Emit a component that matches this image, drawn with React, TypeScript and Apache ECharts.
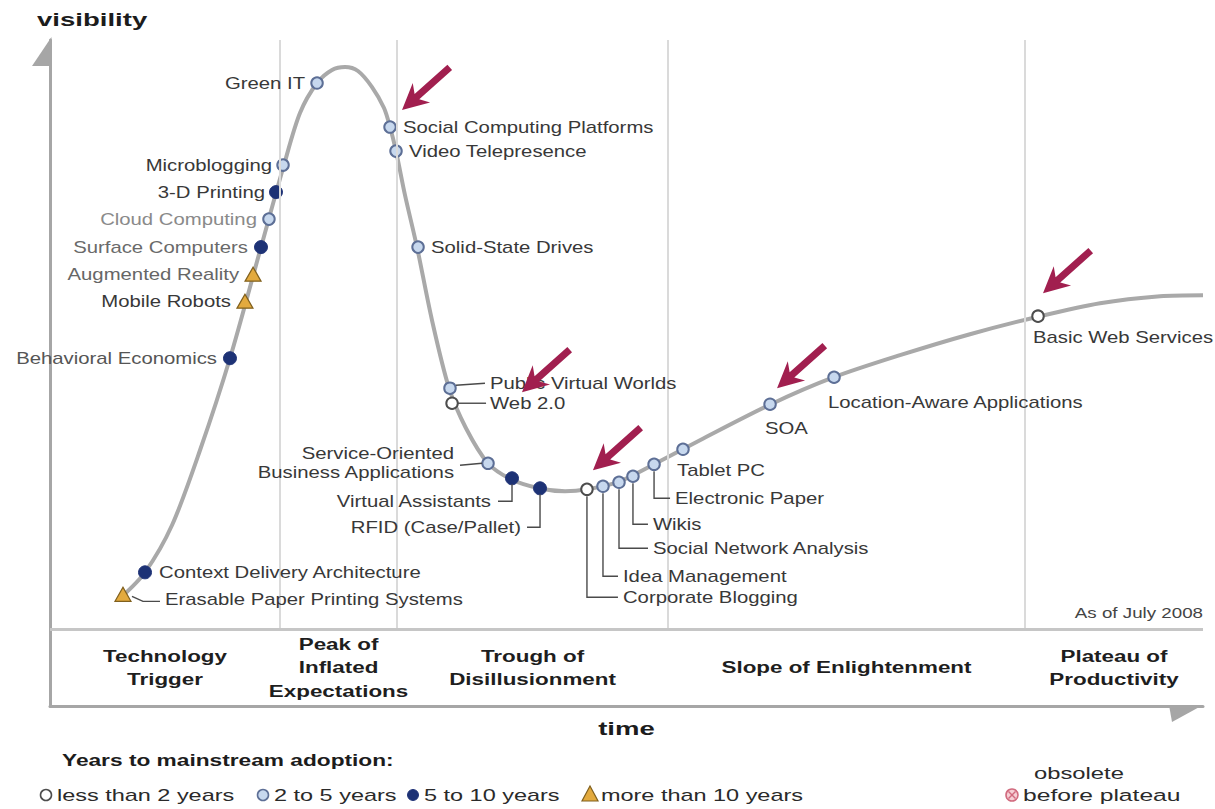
import React, { useEffect, useRef } from "react";
import * as echarts from "echarts";

// ---------- DATA ----------
const technologies = [
  "Erasable Paper Printing Systems",
  "Context Delivery Architecture",
  "Behavioral Economics",
  "Mobile Robots",
  "Augmented Reality",
  "Surface Computers",
  "Cloud Computing",
  "3-D Printing",
  "Microblogging",
  "Green IT",
  "Social Computing Platforms",
  "Video Telepresence",
  "Solid-State Drives",
  "Public Virtual Worlds",
  "Web 2.0",
  "Service-Oriented Business Applications",
  "Virtual Assistants",
  "RFID (Case/Pallet)",
  "Corporate Blogging",
  "Idea Management",
  "Social Network Analysis",
  "Wikis",
  "Electronic Paper",
  "Tablet PC",
  "SOA",
  "Location-Aware Applications",
  "Basic Web Services",
];
const timeValues = [
  6.33, 8.24, 15.61, 16.91, 17.61, 18.3, 18.99, 19.6, 20.21, 23.16, 29.49, 30.01, 31.92, 34.69, 34.87, 37.99,
  40.07, 42.5, 46.57, 47.96, 49.35, 50.56, 52.39, 54.9, 62.45, 68.0, 85.69,
];
const visibilityValues = [
  5.94, 9.68, 46.01, 55.69, 60.27, 64.86, 69.61, 74.19, 78.78, 92.7, 85.23, 81.15, 64.86, 40.92, 38.37, 28.18,
  25.64, 23.94, 23.77, 24.28, 24.96, 25.98, 28.01, 30.56, 38.2, 42.78, 53.14,
];
const adoption = [
  "10+", "5-10", "5-10", "10+", "10+", "5-10", "2-5", "5-10", "2-5", "2-5", "2-5", "2-5", "2-5", "2-5", "<2", "2-5",
  "5-10", "5-10", "<2", "2-5", "2-5", "2-5", "2-5", "2-5", "2-5", "2-5", "<2",
];
const adoptionKeys = ["<2", "2-5", "5-10", "10+", "obsolete"];
const adoptionLabels = ["less than 2 years", "2 to 5 years", "5 to 10 years", "more than 10 years", "obsolete\nbefore plateau"];

const curveTime = [
  6.16, 8.24, 10.58, 13.01, 15.61, 18.3, 20.29, 21.68, 23.16, 24.46, 25.59, 26.71, 27.93, 28.97, 29.49, 30.01,
  30.79, 31.83, 33.13, 34.61, 36.08, 37.99, 39.98, 42.41, 44.67, 46.57, 49.44, 52.39, 56.37, 62.53, 67.99, 73.72,
  79.79, 85.86, 91.07, 96.27, 100,
];
const curveVisibility = [
  5.43, 9.68, 17.66, 30.39, 46.01, 64.86, 78.78, 87.61, 92.7, 94.91, 95.42, 94.74, 92.02, 88.46, 85.23, 81.15,
  73.68, 64.86, 52.46, 40.92, 34.13, 28.18, 25.47, 23.94, 23.43, 23.77, 25.13, 28.01, 32.09, 38.2, 42.78, 46.52,
  50.08, 53.14, 55.35, 56.54, 56.71,
];

const phaseNames = [
  "Technology\nTrigger",
  "Peak of\nInflated\nExpectations",
  "Trough of\nDisillusionment",
  "Slope of Enlightenment",
  "Plateau of\nProductivity",
];
const phaseBoundaries = [0, 19.95, 30.1, 53.6, 84.56, 100];
const highlighted = ["Social Computing Platforms", "Public Virtual Worlds", "Corporate Blogging", "SOA", "Basic Web Services"];
const axisNames = { y: "visibility", x: "time" };
const legendTitle = "Years to mainstream adoption:";
const dateNote = "As of July 2008";

// ---------- LAYOUT / STYLE ----------
const FONT = '"Liberation Sans", Arial, sans-serif';
const LABEL_SCALE = 1.27;
const BOLD_SCALE = 1.4;

const markerStyle: Record<string, any> = {
  "<2": { symbol: "circle", size: 11.5, color: "#ffffff", border: "#4d4d4d", bw: 2 },
  "2-5": { symbol: "circle", size: 11.5, color: "#c7d8ee", border: "#5d6f96", bw: 2 },
  "5-10": { symbol: "circle", size: 13, color: "#1d3275", border: "#24377a", bw: 1 },
  "10+": { symbol: "triangle", size: [16, 14], color: "#e3aa3e", border: "#80601e", bw: 1.2 },
};

type LL = { dx: number; dy: number; align: "left" | "right"; leader?: number[][]; color?: string; text?: string };
const labelLayout: Record<string, LL> = {
  "Erasable Paper Printing Systems": { dx: 42, dy: 5, align: "left", leader: [[9, 2], [20, 7], [37, 7]] },
  "Context Delivery Architecture": { dx: 14, dy: 0, align: "left" },
  "Behavioral Economics": { dx: -13, dy: 0, align: "right", color: "#555555" },
  "Mobile Robots": { dx: -14, dy: 0, align: "right" },
  "Augmented Reality": { dx: -14, dy: 0, align: "right", color: "#666666" },
  "Surface Computers": { dx: -13, dy: 0, align: "right", color: "#6a6a6a" },
  "Cloud Computing": { dx: -12, dy: 0, align: "right", color: "#8a8a8a" },
  "3-D Printing": { dx: -11, dy: 0, align: "right" },
  "Microblogging": { dx: -11, dy: 0, align: "right" },
  "Green IT": { dx: -12, dy: 0, align: "right" },
  "Social Computing Platforms": { dx: 13, dy: 0, align: "left" },
  "Video Telepresence": { dx: 13, dy: 0, align: "left" },
  "Solid-State Drives": { dx: 13, dy: 0, align: "left" },
  "Public Virtual Worlds": { dx: 40, dy: -5, align: "left", leader: [[6, -3], [35, -5]] },
  "Web 2.0": { dx: 38, dy: 0, align: "left", leader: [[6, 0], [34, 0]] },
  "Service-Oriented Business Applications": {
    dx: -34, dy: 0, align: "right", leader: [[-28, 2], [-6, 0]], text: "Service-Oriented\nBusiness Applications",
  },
  "Virtual Assistants": { dx: -21, dy: 23, align: "right", leader: [[0, 6], [0, 23], [-14, 23]] },
  "RFID (Case/Pallet)": { dx: -19, dy: 39, align: "right", leader: [[0, 6], [0, 39], [-13, 39]] },
  "Corporate Blogging": { dx: 36, dy: 108, align: "left", leader: [[0, 7], [0, 108], [31, 108]] },
  "Idea Management": { dx: 20, dy: 90, align: "left", leader: [[0, 7], [0, 90], [15, 90]] },
  "Social Network Analysis": { dx: 34, dy: 66, align: "left", leader: [[0, 7], [0, 66], [29, 66]] },
  "Wikis": { dx: 20, dy: 48, align: "left", leader: [[0, 7], [0, 48], [15, 48]] },
  "Electronic Paper": { dx: 21, dy: 34, align: "left", leader: [[0, 7], [0, 34], [16, 34]] },
  "Tablet PC": { dx: -6, dy: 21, align: "left" },
  "SOA": { dx: -5, dy: 24, align: "left" },
  "Location-Aware Applications": { dx: -6, dy: 25, align: "left" },
  "Basic Web Services": { dx: -5, dy: 21, align: "left" },
};
const arrowTips: Record<string, number[]> = {
  "Social Computing Platforms": [12, -17],
  "Public Virtual Worlds": [72, 4],
  "Corporate Blogging": [6, -19],
  "SOA": [7, -16],
  "Basic Web Services": [5, -23],
};
const ARROW_COLOR = "#a11f4f";

function arrowPoints(tx: number, ty: number) {
  const len = Math.hypot(47, -42);
  const ux = 47 / len, uy = -42 / len;
  const nx = -uy, ny = ux;
  const L = 64, H = 26, W = 13, S = 3.5;
  const at = (a: number, b: number) => [tx + ux * a + nx * b, ty + uy * a + ny * b];
  return [at(0, 0), at(H, W), at(H - 6, S), at(L, S), at(L, -S), at(H - 6, -S), at(H, -W)];
}

function txt(x: number, y: number, text: string, o: any = {}) {
  return {
    type: "text",
    x,
    y,
    scaleX: o.scaleX ?? 1,
    silent: true,
    style: {
      text,
      fill: o.fill ?? "#222",
      fontSize: o.fontSize ?? 16,
      fontWeight: o.fontWeight ?? "normal",
      fontFamily: FONT,
      align: o.align ?? "left",
      textAlign: o.align ?? "left",
      verticalAlign: "middle",
      textVerticalAlign: "middle",
      lineHeight: o.lineHeight ?? 20,
    },
  };
}

export default function App() {
  const ref = useRef<HTMLDivElement>(null);
  useEffect(() => {
    const chart = echarts.init(ref.current!, null, { renderer: "svg" });
    const points = technologies.map((n, i) => [timeValues[i], visibilityValues[i], n]);

    const scatterSeries = adoptionKeys
      .filter((k) => markerStyle[k])
      .map((k) => {
        const st = markerStyle[k];
        return {
          type: "scatter",
          name: adoptionLabels[adoptionKeys.indexOf(k)],
          data: points.filter((_, i) => adoption[i] === k),
          symbol: st.symbol,
          symbolSize: st.size,
          itemStyle: { color: st.color, borderColor: st.border, borderWidth: st.bw, opacity: 1 },
          z: 4,
          silent: true,
        };
      });

    const vLines = phaseBoundaries.slice(1, -1).map((b) => [{ coord: [b, 0] }, { coord: [b, 100] }]);

    chart.setOption({
      animation: false,
      backgroundColor: "#ffffff",
      grid: { left: 50, right: 12, top: 40, bottom: 103 },
      xAxis: {
        type: "value",
        min: 0,
        max: 100,
        axisLine: { show: true, onZero: false, lineStyle: { color: "#a6a6a6", width: 3 } },
        axisTick: { show: false },
        axisLabel: { show: false },
        splitLine: { show: false },
      },
      yAxis: {
        type: "value",
        min: -13,
        max: 100,
        axisLine: { show: true, onZero: false, lineStyle: { color: "#a6a6a6", width: 3 } },
        axisTick: { show: false },
        axisLabel: { show: false },
        splitLine: { show: false },
      },
      series: [
        {
          type: "line",
          name: "Hype Cycle",
          data: curveTime.map((t, i) => [t, curveVisibility[i]]),
          smooth: 0.3,
          showSymbol: false,
          silent: true,
          lineStyle: { color: "#a9a9a9", width: 4 },
          z: 2,
          markLine: {
            silent: true,
            symbol: ["none", "none"],
            label: { show: false },
            lineStyle: { color: "#dadada", width: 2, type: "solid" },
            data: [
              ...vLines,
              [{ coord: [0, 0], lineStyle: { color: "#c6c6c6", width: 3, type: "solid" } }, { coord: [100, 0] }],
            ],
          },
        },
        ...scatterSeries,
        {
          type: "custom",
          name: "annotations",
          silent: true,
          clip: false,
          z: 6,
          data: technologies.map((n, i) => [timeValues[i], visibilityValues[i]]),
          renderItem: (params: any, api: any) => {
            const i = params.dataIndex;
            const name = technologies[i];
            const p = api.coord([api.value(0), api.value(1)]);
            const L = labelLayout[name];
            const children: any[] = [];
            if (L.leader) {
              children.push({
                type: "polyline",
                shape: { points: L.leader.map(([a, b]) => [p[0] + a, p[1] + b]) },
                style: { stroke: "#4a4a4a", lineWidth: 1.4, fill: null },
              });
            }
            children.push(
              txt(p[0] + L.dx, p[1] + L.dy, L.text ?? name, {
                scaleX: LABEL_SCALE,
                fill: L.color ?? "#383838",
                align: L.align,
                fontSize: 16,
                lineHeight: 19,
              })
            );
            if (highlighted.includes(name)) {
              const t = arrowTips[name];
              children.push({
                type: "polygon",
                shape: { points: arrowPoints(p[0] + t[0], p[1] + t[1]) },
                style: { fill: ARROW_COLOR },
              });
            }
            return { type: "group", children };
          },
        },
      ],
    });

    const px = (x: number, y: number) => chart.convertToPixel({ gridIndex: 0 } as any, [x, y]) as number[];
    const [x0, yTop] = px(0, 100);
    const [x1, yBottom] = px(100, -13);
    const yZero = px(0, 0)[1];
    const g: any[] = [];
    g.push({ type: "polygon", silent: true, shape: { points: [[x0 + 1.5, yTop - 3], [x0 + 1.5, yTop + 26], [x0 - 18, yTop + 26]] }, style: { fill: "#a6a6a6" } });
    g.push({ type: "polygon", silent: true, shape: { points: [[x1 - 34, yBottom - 1], [x1, yBottom - 1], [x1 - 31, yBottom + 16]] }, style: { fill: "#a6a6a6" } });
    g.push(txt(37, yTop - 20, axisNames.y, { fontSize: 19, fontWeight: "bold", scaleX: 1.45, fill: "#1c1c1c" }));
    g.push(txt((x0 + x1) / 2, yBottom + 23, axisNames.x, { fontSize: 19, fontWeight: "bold", scaleX: 1.45, fill: "#1c1c1c", align: "center" }));
    const yMidBand = (yZero + yBottom) / 2;
    phaseNames.forEach((n, i) => {
      const cx = (px(phaseBoundaries[i], 0)[0] + px(phaseBoundaries[i + 1], 0)[0]) / 2;
      g.push(txt(cx, yMidBand, n, { fontSize: 16, fontWeight: "bold", scaleX: BOLD_SCALE, fill: "#1e1e1e", align: "center", lineHeight: 23.5 }));
    });
    g.push(txt(x1, yZero - 16, dateNote, { fontSize: 15, scaleX: 1.25, fill: "#444", align: "right" }));

    // legend
    const legY = 795;
    g.push(txt(62, 760, legendTitle, { fontSize: 16, fontWeight: "bold", scaleX: 1.42, fill: "#1c1c1c" }));
    const legX = [46, 263, 413, 590, 1012];
    adoptionKeys.forEach((k, i) => {
      const cx = legX[i];
      if (k === "10+") {
        g.push({ type: "polygon", silent: true, shape: { points: [[cx, legY - 9], [cx + 8, legY + 6], [cx - 8, legY + 6]] }, style: { fill: "#e3aa3e", stroke: "#80601e", lineWidth: 1.2 } });
      } else if (k === "obsolete") {
        g.push({ type: "circle", silent: true, shape: { cx, cy: legY, r: 6 }, style: { fill: "#f6cfd5", stroke: "#d16b7f", lineWidth: 1.6 } });
        g.push({ type: "line", silent: true, shape: { x1: cx - 3.5, y1: legY - 3.5, x2: cx + 3.5, y2: legY + 3.5 }, style: { stroke: "#d16b7f", lineWidth: 1.4 } });
        g.push({ type: "line", silent: true, shape: { x1: cx - 3.5, y1: legY + 3.5, x2: cx + 3.5, y2: legY - 3.5 }, style: { stroke: "#d16b7f", lineWidth: 1.4 } });
      } else {
        const st = markerStyle[k];
        g.push({ type: "circle", silent: true, shape: { cx, cy: legY, r: 5.5 }, style: { fill: st.color, stroke: st.border, lineWidth: Math.min(st.bw, 1.6) } });
      }
      const label = adoptionLabels[i];
      if (k === "obsolete") {
        const parts = label.split("\n");
        g.push(txt(cx + 22, legY - 22, parts[0], { fontSize: 17, scaleX: 1.4, fill: "#2a2a2a" }));
        g.push(txt(cx + 11, legY, parts[1], { fontSize: 17, scaleX: 1.45, fill: "#2a2a2a" }));
      } else {
        g.push(txt(cx + 11, legY, label, { fontSize: 17, scaleX: 1.38, fill: "#2a2a2a" }));
      }
    });

    chart.setOption({ graphic: g });
    return () => chart.dispose();
  }, []);
  return <div ref={ref} style={{ position: "absolute", left: 0, top: 0, width: 1215, height: 809 }} />;
}
